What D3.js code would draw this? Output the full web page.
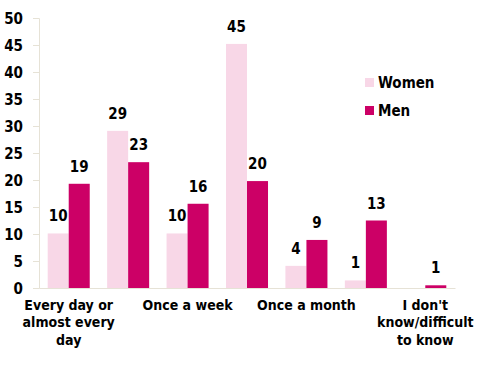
<!doctype html>
<html lang="en">
<head>
<meta charset="utf-8">
<title>Frequency chart</title>
<style>
  body { margin: 0; background: #fff; }
  svg text { font-family: "DejaVu Sans Condensed", "DejaVu Sans", sans-serif; font-weight: bold; font-stretch: condensed; fill: #000; }
</style>
</head>
<body>
<div id="output"></div>
<script src="https://d3js.org/d3.v7.min.js"></script>
<script>
    // categories (the odd ones are not labelled on the reference axis)
    var categories = ["Every day or almost every day", "Several times a week", "Once a week",
        "Several times a month", "Once a month", "Less often", "I don't know/difficult to know"];
    var series = ["Women", "Men"];
    var women = [10.1, 29.1, 10.1, 45.2, 4.1, 1.4, 0];
    var men = [19.3, 23.3, 15.6, 19.8, 8.9, 12.5, 0.5];
    var womenLabels = ["10", "29", "10", "45", "4", "1", ""];
    var menLabels = ["19", "23", "16", "20", "9", "13", "1"];
    var yTicks = [0, 5, 10, 15, 20, 25, 30, 35, 40, 45, 50];
    var colors = ["#f8d7e7", "#cc0066"];

    var width = 488, height = 366;
    var axisColor = "#e6e2d6";

    var svg = d3.select("#output").append("svg")
        .attr("width", width)
        .attr("height", height);

    var x0 = d3.scaleBand()
        .domain(d3.range(categories.length))
        .range([39, 455]);

    var x1 = d3.scaleBand()
        .domain(series)
        .range([8.7, x0.bandwidth() - 8.7]);

    var y = d3.scaleLinear()
        .domain([0, 50])
        .range([288, 18]);

    var color = d3.scaleOrdinal().domain(series).range(colors);

    // y axis
    var yAxis = svg.append("g")
        .attr("transform", "translate(39,0)")
        .call(d3.axisLeft(y).tickValues(yTicks).tickSize(6).tickPadding(9));
    yAxis.select(".domain").attr("stroke", axisColor);
    yAxis.selectAll(".tick line").attr("stroke", axisColor);
    yAxis.selectAll(".tick text")
        .attr("font-size", "15px")
        .attr("dy", "0.36em")
        .attr("dx", "-1");

    var data = categories.map(function (c, i) {
        return { i: i, values: [
            { key: "Women", value: women[i], label: womenLabels[i] },
            { key: "Men", value: men[i], label: menLabels[i] }
        ] };
    });

    var groups = svg.selectAll(".group")
        .data(data)
        .enter()
        .append("g")
        .attr("class", "group")
        .attr("transform", function (d) { return "translate(" + x0(d.i) + ",0)"; });

    groups.selectAll("rect")
        .data(function (d) { return d.values; })
        .enter()
        .append("rect")
        .attr("x", function (d) { return x1(d.key); })
        .attr("width", x1.bandwidth())
        .attr("y", function (d) { return y(d.value); })
        .attr("height", function (d) { return y(0) - y(d.value); })
        .attr("fill", function (d) { return color(d.key); });

    groups.selectAll(".val")
        .data(function (d) { return d.values; })
        .enter()
        .append("text")
        .attr("class", "val")
        .attr("x", function (d) { return x1(d.key) + x1.bandwidth() / 2; })
        .attr("y", function (d) { return y(d.value) - 12; })
        .attr("text-anchor", "middle")
        .attr("font-size", "15px")
        .text(function (d) { return d.label; });

    // x axis baseline
    var xAxis = svg.append("g")
        .attr("transform", "translate(0,288)")
        .call(d3.axisBottom(x0)
            .tickValues([0, 2, 4, 6])
            .tickSize(0)
            .tickPadding(12)
            .tickFormat(function (i) { return categories[i]; }));
    xAxis.select(".domain").attr("stroke", axisColor);
    xAxis.selectAll(".tick text")
        .attr("font-size", "14px")
        .call(wrap, 110);

    function wrap(texts, w) {
        texts.each(function () {
            var text = d3.select(this);
            var words = text.text().split(/\s+/);
            var yy = text.attr("y");
            var lines = [], line = [];
            text.text(null);
            var tspan = text.append("tspan").attr("x", 0).attr("y", yy).attr("dy", "0.71em");
            words.forEach(function (word) {
                line.push(word);
                tspan.text(line.join(" "));
                if (tspan.node().getComputedTextLength() > w && line.length > 1) {
                    line.pop();
                    tspan.text(line.join(" "));
                    line = [word];
                    lines.push(tspan);
                    tspan = text.append("tspan").attr("x", 0).attr("y", yy)
                        .attr("dy", (lines.length * 17.5 / 14 + 0.71) + "em")
                        .text(word);
                }
            });
        });
    }

    // legend
    var legend = svg.append("g")
        .attr("transform", "translate(365,78)");
    var items = legend.selectAll(".item")
        .data(series)
        .enter()
        .append("g")
        .attr("transform", function (d, i) { return "translate(0," + i * 28 + ")"; });
    items.append("rect")
        .attr("width", 9)
        .attr("height", 9)
        .attr("fill", function (d) { return color(d); });
    items.append("text")
        .attr("x", 13)
        .attr("y", 5)
        .attr("dy", "0.36em")
        .attr("font-size", "15px")
        .text(function (d) { return d; });
</script>
</body>
</html>
